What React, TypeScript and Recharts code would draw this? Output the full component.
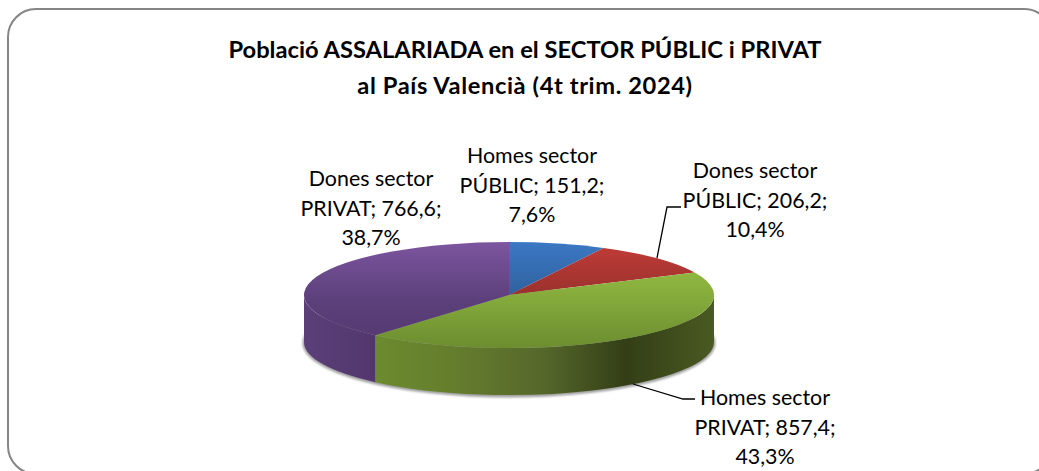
import React from "react";
import { PieChart, Pie, Cell } from "recharts";

const names = ["Homes sector PÚBLIC", "Dones sector PÚBLIC", "Homes sector PRIVAT", "Dones sector PRIVAT"];
const values = [151.2, 206.2, 857.4, 766.6];
const percents = ["7,6%", "10,4%", "43,3%", "38,7%"];
const labelLines = [
  ["Homes sector", "PÚBLIC; 151,2;", "7,6%"],
  ["Dones sector", "PÚBLIC; 206,2;", "10,4%"],
  ["Homes sector", "PRIVAT; 857,4;", "43,3%"],
  ["Dones sector", "PRIVAT; 766,6;", "38,7%"],
];
const titleLines = ["Població ASSALARIADA en el SECTOR PÚBLIC i PRIVAT", "al País Valencià (4t trim. 2024)"];

const tableData = names.map((name, i) => ({ name, value: values[i], percent: percents[i] }));

const W = 1039;
const H = 471;
const CX = 509;
const CY = 295;
const RX = 205;
const SQUASH = 53 / 205;
const DEPTH = 47;
const FONT = "Lato, 'Open Sans', sans-serif";

const labelPos = [
  { x: 532, y: 163 },
  { x: 755, y: 178 },
  { x: 765, y: 405 },
  { x: 371, y: 186 },
];
const leaders: (string | null)[] = [null, "M657 258 L667 207 L681 207", "M633 384 L683 399 L695 399", null];
const topFills = ["url(#topBlue)", "url(#topRed)", "url(#topGreen)", "url(#topPurple)"];
const wallFills = ["#2f5f9c", "#98302c", "url(#wallGreen)", "url(#wallPurple)"];

function pt(cx: number, cy: number, rx: number, ry: number, a: number) {
  const r = (a * Math.PI) / 180;
  return [cx + rx * Math.sin(r), cy - ry * Math.cos(r)];
}

function Slice3D(props: any) {
  const { cx, cy, outerRadius, startAngle, endAngle, index } = props;
  const rx = outerRadius;
  const ry = rx * SQUASH;
  const a0 = 90 - startAngle;
  const a1 = 90 - endAngle;
  const p0 = pt(cx, cy, rx, ry, a0);
  const p1 = pt(cx, cy, rx, ry, a1);
  const large = a1 - a0 > 180 ? 1 : 0;
  const top = `M${cx} ${cy} L${p0[0]} ${p0[1]} A${rx} ${ry} 0 ${large} 1 ${p1[0]} ${p1[1]} Z`;
  const w0 = Math.max(a0, 90);
  const w1 = Math.min(a1, 270);
  let wall = "";
  if (w1 > w0) {
    const q0 = pt(cx, cy, rx, ry, w0);
    const q1 = pt(cx, cy, rx, ry, w1);
    wall = `M${q0[0]} ${q0[1]} A${rx} ${ry} 0 0 1 ${q1[0]} ${q1[1]} L${q1[0]} ${q1[1] + DEPTH} A${rx} ${ry} 0 0 0 ${q0[0]} ${q0[1] + DEPTH} Z`;
  }
  return (
    <g>
      {index === 0 && (
        <ellipse cx={cx} cy={cy + DEPTH + 1} rx={rx + 1.5} ry={ry + 1.5} fill="#a0a0a0" filter="url(#softShadow)" />
      )}
      {wall && <path d={wall} fill={wallFills[index]} />}
      <path d={top} fill={topFills[index]} />
    </g>
  );
}

function SliceLabel(props: any) {
  const i = props.index;
  const pos = labelPos[i];
  const lead = leaders[i];
  return (
    <g>
      {lead && <path d={lead} fill="none" stroke="#000" strokeWidth={1.3} />}
      <text x={pos.x} y={pos.y} textAnchor="middle" fontFamily={FONT} fontSize={21.4} fill="#000">
        {labelLines[i].map((t, k) => (
          <tspan key={k} x={pos.x} y={pos.y + k * 29.7}>
            {t}
          </tspan>
        ))}
      </text>
    </g>
  );
}

const vGrad = (id: string, c0: string, c1: string, c2: string) => (
  <linearGradient id={id} gradientUnits="userSpaceOnUse" x1={0} y1={242} x2={0} y2={347}>
    <stop offset="0" stopColor={c0} />
    <stop offset="0.55" stopColor={c1} />
    <stop offset="1" stopColor={c2} />
  </linearGradient>
);

export default function App() {
  return (
    <div style={{ position: "absolute", left: 0, top: 0, width: W, height: H, background: "#fff", overflow: "hidden" }}>
      <PieChart width={W} height={H} margin={{ top: 0, right: 0, bottom: 0, left: 0 }}>
        <defs>
          {vGrad("topBlue", "#3b78c3", "#2f5f9c", "#2a5590")}
          {vGrad("topRed", "#c23c38", "#97302c", "#8a2b29")}
          {vGrad("topGreen", "#9cc545", "#84a93b", "#6c8e30")}
          {vGrad("topPurple", "#7c559f", "#5c407b", "#54386f")}
          <linearGradient id="wallGreen" gradientUnits="userSpaceOnUse" x1={375} y1={0} x2={714} y2={0}>
            <stop offset="0" stopColor="#6c8b2f" />
            <stop offset="0.25" stopColor="#647c2d" />
            <stop offset="0.5" stopColor="#55672a" />
            <stop offset="0.74" stopColor="#333e16" />
            <stop offset="1" stopColor="#4a5a22" />
          </linearGradient>
          <linearGradient id="wallPurple" gradientUnits="userSpaceOnUse" x1={304} y1={0} x2={375} y2={0}>
            <stop offset="0" stopColor="#5b3f79" />
            <stop offset="1" stopColor="#52366d" />
          </linearGradient>
          <filter id="softShadow" x="-5%" y="-20%" width="110%" height="140%">
            <feGaussianBlur stdDeviation="1.2" />
          </filter>
        </defs>
        <rect x={8} y={9} width={1044} height={465} rx={28} ry={28} fill="#fff" stroke="#868686" strokeWidth={2} />
        <text x={525} y={58} textAnchor="middle" fontFamily={FONT} fontWeight={700} fontSize={23.7} fill="#000">
          {titleLines[0]}
        </text>
        <text x={525} y={94} textAnchor="middle" fontFamily={FONT} fontWeight={700} fontSize={23.7} letterSpacing={0.6} fill="#000">
          {titleLines[1]}
        </text>
        <Pie
          data={tableData}
          dataKey="value"
          nameKey="name"
          cx={CX}
          cy={CY}
          innerRadius={0}
          outerRadius={RX}
          startAngle={90}
          endAngle={-270}
          stroke="none"
          isAnimationActive={false}
          shape={Slice3D}
          label={SliceLabel}
          labelLine={false}
        >
          {tableData.map((d, i) => (
            <Cell key={d.name} fill={wallFills[i]} />
          ))}
        </Pie>
      </PieChart>
    </div>
  );
}
